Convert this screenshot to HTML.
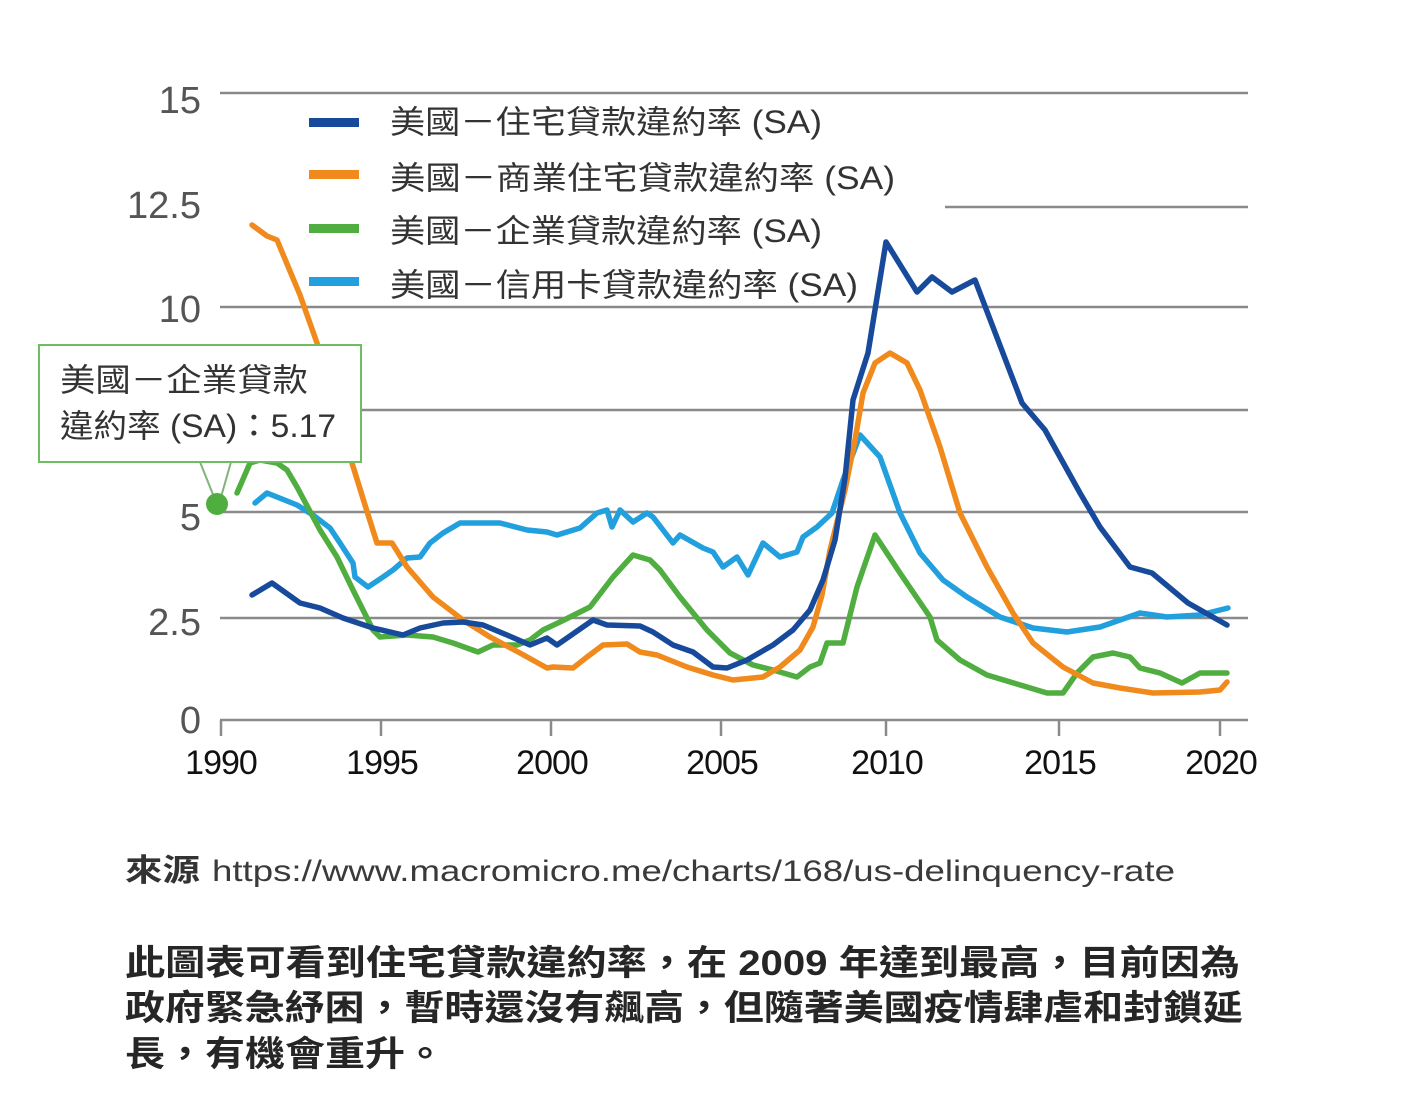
<!DOCTYPE html>
<html><head><meta charset="utf-8"><style>
html,body{margin:0;padding:0;background:#fff;}
svg{display:block;}
text{font-family:"Liberation Sans","Noto Sans CJK TC","Noto Sans CJK SC",sans-serif;}
</style></head><body>
<svg width="1402" height="1100" viewBox="0 0 1402 1100" xmlns="http://www.w3.org/2000/svg">
<rect width="1402" height="1100" fill="#fff"/>
<!-- gridlines -->
<g stroke="#8a8a8a" stroke-width="2.5" fill="none">
<line x1="220" y1="93" x2="1248" y2="93"/>
<line x1="945" y1="207" x2="1248" y2="207"/>
<line x1="220" y1="307" x2="1248" y2="307"/>
<line x1="220" y1="410" x2="1248" y2="410"/>
<line x1="220" y1="512" x2="1248" y2="512"/>
<line x1="220" y1="618" x2="1248" y2="618"/>
<line x1="220" y1="720" x2="1248" y2="720"/>
<line x1="221" y1="720" x2="221" y2="736"/>
<line x1="381" y1="720" x2="381" y2="736"/>
<line x1="551" y1="720" x2="551" y2="736"/>
<line x1="721" y1="720" x2="721" y2="736"/>
<line x1="886" y1="720" x2="886" y2="736"/>
<line x1="1059" y1="720" x2="1059" y2="736"/>
<line x1="1220" y1="720" x2="1220" y2="736"/>
</g>
<!-- y labels -->
<g font-size="38" fill="#555" text-anchor="end">
<text x="201" y="113">15</text>
<text x="201" y="218">12.5</text>
<text x="201" y="322">10</text>
<text x="201" y="530">5</text>
<text x="201" y="635">2.5</text>
<text x="201" y="733">0</text>
</g>
<!-- x labels -->
<g font-size="34" fill="#111" text-anchor="middle" letter-spacing="-1">
<text x="221" y="774">1990</text>
<text x="382" y="774">1995</text>
<text x="552" y="774">2000</text>
<text x="722" y="774">2005</text>
<text x="887" y="774">2010</text>
<text x="1060" y="774">2015</text>
<text x="1221" y="774">2020</text>
</g>
<!-- series -->
<g fill="none" stroke-width="5.5" stroke-linejoin="round" stroke-linecap="round">
<polyline stroke="#22a0de" points="255,503 267,493 297,505 313,515 330,528 340,543 353,563 355,577 368,587 383,577 393,570 407,558 420,557 430,543 443,533 460,523 500,523 527,530 547,532 557,535 580,528 597,513 607,510 612,527 620,510 633,522 647,513 653,517 673,543 680,535 703,548 713,552 723,567 737,557 748,575 763,543 780,557 797,552 803,537 817,527 832,513 843,480 860,435 880,457 900,513 920,553 943,580 967,597 1000,617 1033,628 1067,632 1100,627 1140,613 1167,617 1200,615 1228,608"/>
<polyline stroke="#4fae3f" points="237,493 250,463 260,460 277,463 287,470 297,487 320,530 337,557 353,590 373,630 380,637 407,635 433,637 453,643 478,652 493,645 517,645 530,640 543,630 560,622 590,607 613,577 633,555 650,560 660,570 680,597 707,630 730,653 753,665 773,670 797,677 810,667 820,663 827,643 843,643 857,587 875,535 900,573 930,617 937,640 960,660 987,675 1027,687 1047,693 1063,693 1077,673 1093,657 1113,653 1130,657 1140,668 1160,673 1182,683 1200,673 1227,673"/>
<polyline stroke="#f08a1d" points="252,225 267,236 277,240 300,295 317,343 335,400 352,463 365,505 377,543 392,543 407,567 433,597 463,620 490,637 520,653 547,668 553,667 573,668 587,657 603,645 627,644 640,652 657,655 687,667 713,675 733,680 763,677 780,667 800,650 813,627 822,595 830,550 845,490 855,440 863,393 875,363 890,353 907,363 920,390 940,447 960,513 987,567 1013,613 1033,643 1063,667 1093,683 1120,688 1153,693 1200,692 1220,690 1227,682"/>
<polyline stroke="#184a9c" points="252,595 272,583 300,603 320,608 343,618 373,628 403,635 420,628 443,623 463,622 483,625 507,635 530,645 547,638 557,645 593,620 607,625 640,626 653,632 673,645 693,652 713,667 727,668 747,660 773,645 793,630 810,610 823,580 835,540 845,478 853,400 868,353 886,242 917,292 932,277 952,292 975,280 1022,403 1045,430 1080,493 1100,527 1130,567 1152,573 1188,603 1227,625"/>
</g>
<!-- legend -->
<g>
<rect x="309" y="118" width="50" height="9" fill="#184a9c"/>
<rect x="309" y="170" width="50" height="9" fill="#f08a1d"/>
<rect x="309" y="224" width="50" height="9" fill="#4fae3f"/>
<rect x="309" y="277" width="50" height="9" fill="#22a0de"/>
<g font-size="32" fill="#333">
<text x="390" y="133" textLength="432" lengthAdjust="spacingAndGlyphs">美國－住宅貸款違約率 (SA)</text>
<text x="390" y="189" textLength="505" lengthAdjust="spacingAndGlyphs">美國－商業住宅貸款違約率 (SA)</text>
<text x="390" y="242" textLength="432" lengthAdjust="spacingAndGlyphs">美國－企業貸款違約率 (SA)</text>
<text x="390" y="296" textLength="468" lengthAdjust="spacingAndGlyphs">美國－信用卡貸款違約率 (SA)</text>
</g>
</g>
<!-- annotation -->
<rect x="39" y="345" width="322" height="117" fill="#fff" stroke="#6cbf5e" stroke-width="2"/>
<g stroke="#7fb47a" stroke-width="2" fill="none">
<line x1="200" y1="462" x2="214" y2="497"/>
<line x1="231" y1="462" x2="221" y2="497"/>
</g>
<circle cx="217" cy="504" r="11" fill="#4fae3f"/>
<g font-size="32" fill="#333">
<text x="60" y="391" textLength="248" lengthAdjust="spacingAndGlyphs">美國－企業貸款</text>
<text x="60" y="437" textLength="276" lengthAdjust="spacingAndGlyphs">違約率 (SA)：5.17</text>
</g>
<!-- source -->
<text x="125" y="881" font-size="31" fill="#333" font-weight="bold" textLength="75" lengthAdjust="spacingAndGlyphs">來源</text>
<text x="212" y="881" font-size="30" fill="#3a3a3a" textLength="963" lengthAdjust="spacingAndGlyphs">https://www.macromicro.me/charts/168/us-delinquency-rate</text>
<!-- paragraph -->
<g font-size="35" fill="#262626" font-weight="bold">
<text x="125" y="975" textLength="1115" lengthAdjust="spacingAndGlyphs">此圖表可看到住宅貸款違約率，在 2009 年達到最高，目前因為</text>
<text x="125" y="1020" textLength="1118" lengthAdjust="spacingAndGlyphs">政府緊急紓困，暫時還沒有飆高，但隨著美國疫情肆虐和封鎖延</text>
<text x="125" y="1066" textLength="320" lengthAdjust="spacingAndGlyphs">長，有機會重升。</text>
</g>
</svg>
</body></html>
